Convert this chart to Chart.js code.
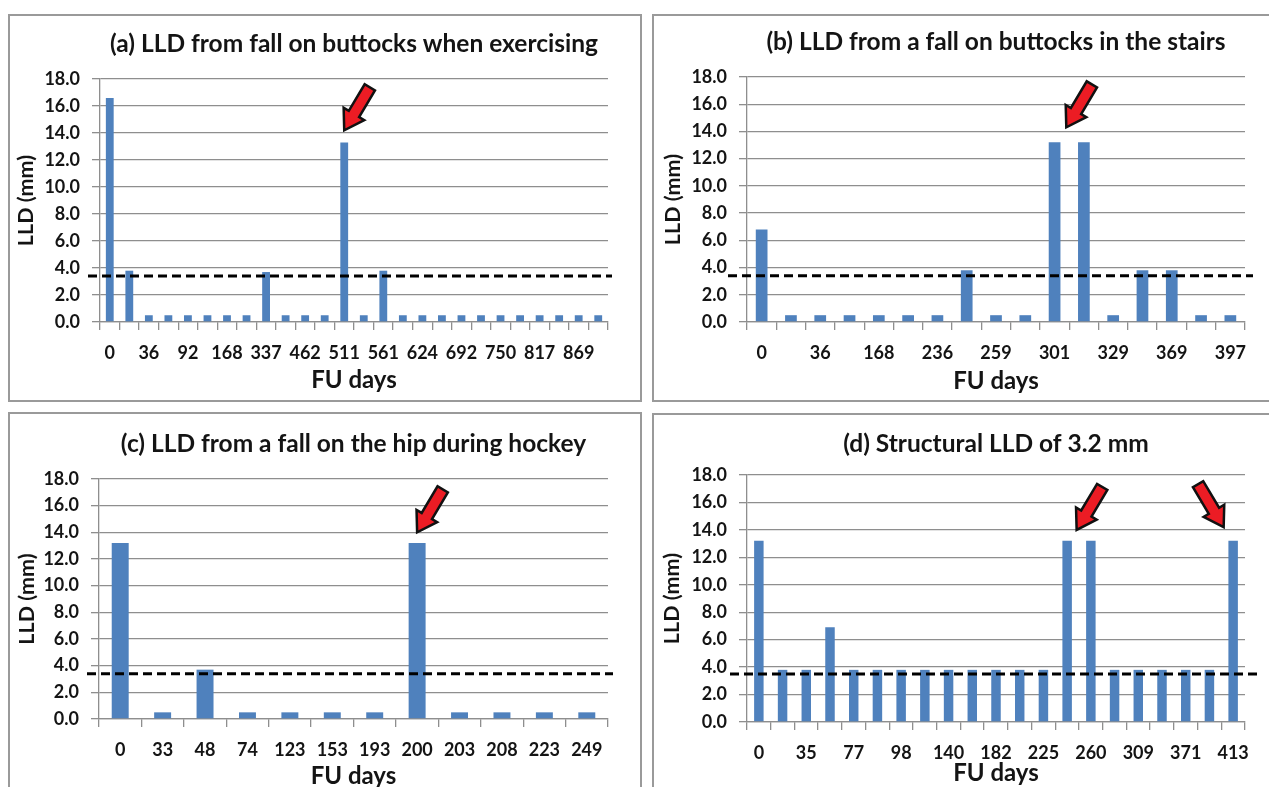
<!DOCTYPE html>
<html><head><meta charset="utf-8">
<script src="https://cdn.jsdelivr.net/npm/chart.js@4.4.1/dist/chart.umd.min.js"></script>
<style>
html,body{margin:0;padding:0;background:#fff;overflow:hidden;width:1269px;height:787px;}
canvas{position:absolute;}
.frame{position:absolute;border:2px solid #9a9a9a;box-sizing:border-box;pointer-events:none;}
</style></head><body>
<canvas id="ca" width="634" height="388" style="left:8px;top:14px"></canvas>
<canvas id="cb" width="617" height="388" style="left:652px;top:14px"></canvas>
<canvas id="cc" width="634" height="375" style="left:8px;top:412px"></canvas>
<canvas id="cd" width="617" height="374" style="left:652px;top:413px"></canvas>
<div class="frame" style="left:8px;top:14px;width:634px;height:388px"></div>
<div class="frame" style="left:652px;top:14px;width:640px;height:388px"></div>
<div class="frame" style="left:8px;top:412px;width:634px;height:400px"></div>
<div class="frame" style="left:652px;top:413px;width:640px;height:400px"></div>
<script>
// ---- data ----
const titleA = '(a) LLD from fall on buttocks when exercising';
const labelsA = ['0','','36','','92','','168','','337','','462','','511','','561','','624','','692','','750','','817','','869',''];
const valuesA = [16.6,3.8,0.5,0.5,0.5,0.5,0.5,0.5,3.7,0.5,0.5,0.5,13.3,0.5,3.8,0.5,0.5,0.5,0.5,0.5,0.5,0.5,0.5,0.5,0.5,0.5];

const titleB = '(b) LLD from a fall on buttocks in the stairs';
const labelsB = ['0','','36','','168','','236','','259','','301','','329','','369','','397'];
const valuesB = [6.8,0.5,0.5,0.5,0.5,0.5,0.5,3.8,0.5,0.5,13.2,13.2,0.5,3.8,3.8,0.5,0.5];

const titleC = '(c) LLD from a fall on the hip during hockey';
const labelsC = ['0','33','48','74','123','153','193','200','203','208','223','249'];
const valuesC = [13.2,0.5,3.7,0.5,0.5,0.5,0.5,13.2,0.5,0.5,0.5,0.5];

const titleD = '(d) Structural LLD of 3.2 mm';
const labelsD = ['0','','35','','77','','98','','140','','182','','225','','260','','309','','371','','413'];
const valuesD = [13.2,3.8,3.8,6.9,3.8,3.8,3.8,3.8,3.8,3.8,3.8,3.8,3.8,13.2,13.2,3.8,3.8,3.8,3.8,3.8,13.2];

const thresholdA = 3.4, thresholdB = 3.4, thresholdC = 3.4, thresholdD = 3.5;
const yTicks = [0,2,4,6,8,10,12,14,16,18];
const yTitle = 'LLD (mm)';
const xTitle = 'FU days';
// arrow annotations: category position (fractional) and value of the arrow tip; dir -1 = points down-left, 1 = down-right
const arrowsA = [{at:12, value:14.2, dir:-1}];
const arrowsB = [{at:10.4, value:14.3, dir:-1}];
const arrowsC = [{at:7, value:14.0, dir:-1}];
const arrowsD = [{at:13.4, value:14.0, dir:-1},{at:19.6, value:14.2, dir:1}];

// ---- rendering ----
const FONT = 'Lato, "Open Sans", sans-serif';
const TXT = '#141414';
const GRID = '#8e8e8e';
const TITLE_SIZE = 24.5, X_TITLE_SIZE = 24, Y_TITLE_SIZE = 21.5, TICK_SIZE = 18;

function drawArrow(ctx, tx, ty, dir){
  let ux = 25*dir, uy = 42;
  const n = Math.hypot(ux,uy); ux/=n; uy/=n;
  const px = -uy, py = ux;
  const L = 50, HL = 19, HH = 12, SH = 6;
  const bx = tx - ux*HL, by = ty - uy*HL;
  const ex = tx - ux*L, ey = ty - uy*L;
  ctx.save();
  ctx.beginPath();
  ctx.moveTo(tx,ty);
  ctx.lineTo(bx+px*HH, by+py*HH);
  ctx.lineTo(bx+px*SH, by+py*SH);
  ctx.lineTo(ex+px*SH, ey+py*SH);
  ctx.lineTo(ex-px*SH, ey-py*SH);
  ctx.lineTo(bx-px*SH, by-py*SH);
  ctx.lineTo(bx-px*HH, by-py*HH);
  ctx.closePath();
  ctx.fillStyle = '#ec1c24';
  ctx.fill();
  ctx.lineWidth = 2.5;
  ctx.lineJoin = 'miter';
  ctx.strokeStyle = '#111';
  ctx.stroke();
  ctx.restore();
}

function makeChart(id, labels, values, title, threshold, arrows, g){
  const canvas = document.getElementById(id);
  const W = canvas.width, H = canvas.height;
  const overlay = {
    id: 'overlay_'+id,
    afterDatasetsDraw(chart){
      const {ctx, chartArea, scales:{x, y}} = chart;
      const yy = y.getPixelForValue(threshold);
      ctx.save();
      ctx.beginPath();
      ctx.setLineDash([9,5]);
      ctx.lineWidth = 3;
      ctx.strokeStyle = '#000';
      ctx.moveTo(chartArea.left - g.dashL, yy);
      ctx.lineTo(chartArea.right + g.dashR, yy);
      ctx.stroke();
      ctx.restore();
      const n = labels.length;
      arrows.forEach(a => {
        const ax = x.left + x.width*(a.at+0.5)/n;
        const ay = y.getPixelForValue(a.value);
        drawArrow(ctx, ax, ay, a.dir);
      });
    }
  };
  const tlh = TITLE_SIZE*1.2;
  return new Chart(canvas, {
    type: 'bar',
    data: { labels: labels, datasets: [{ data: values, backgroundColor: '#4f81bd', borderWidth: 0, barPercentage: 0.4, categoryPercentage: 1 }] },
    options: {
      responsive: false, animation: false, devicePixelRatio: 1,
      layout: { padding: { left: 0, right: W - g.right, top: 0, bottom: 0 } },
      plugins: {
        legend: { display: false }, tooltip: { enabled: false },
        title: { display: true, text: title, fullSize: false, color: TXT,
          font: { family: FONT, size: TITLE_SIZE, weight: 'bold', lineHeight: 1.2 },
          padding: { top: g.titleCenter - tlh/2, bottom: g.top - (g.titleCenter - tlh/2) - tlh } }
      },
      scales: {
        x: {
          grid: { display: true, drawOnChartArea: false, offset: true, color: GRID, lineWidth: 1.3, tickLength: 8 },
          border: { display: true, color: GRID, width: 1.3 },
          ticks: { autoSkip: false, maxRotation: 0, minRotation: 0, color: TXT, padding: 12,
            font: { family: FONT, size: TICK_SIZE, weight: 'bold' } },
          title: { display: true, text: xTitle, color: TXT,
            font: { family: FONT, size: X_TITLE_SIZE, weight: 'bold', lineHeight: 1.0 },
            padding: { top: 0, bottom: H - g.xTitleCenter - X_TITLE_SIZE/2 } },
          afterFit(scale){ scale.height = H - g.bottom; }
        },
        y: {
          min: 0, max: 18,
          afterBuildTicks(scale){ scale.ticks = yTicks.map(v => ({value: v})); },
          grid: { color: GRID, lineWidth: 1.3, tickLength: 8 },
          border: { display: true, color: GRID, width: 1.3 },
          ticks: { color: TXT, padding: 12, font: { family: FONT, size: TICK_SIZE, weight: 'bold' },
            callback: v => Number(v).toFixed(1) },
          title: { display: true, text: yTitle, color: TXT,
            font: { family: FONT, size: Y_TITLE_SIZE, weight: 'bold', lineHeight: 1.0 },
            padding: { top: g.yTitleCenter - Y_TITLE_SIZE/2, bottom: 0 } },
          afterFit(scale){ scale.width = g.left; }
        }
      }
    },
    plugins: [overlay]
  });
}

makeChart('ca', labelsA, valuesA, titleA, thresholdA, arrowsA,
  {left:92, right:600, top:65, bottom:308, titleCenter:30, xTitleCenter:366, yTitleCenter:18, dashL:12, dashR:4});
makeChart('cb', labelsB, valuesB, titleB, thresholdB, arrowsB,
  {left:95, right:593, top:63, bottom:308, titleCenter:28, xTitleCenter:367, yTitleCenter:21, dashL:19, dashR:8});
makeChart('cc', labelsC, valuesC, titleC, thresholdC, arrowsC,
  {left:91, right:600, top:67, bottom:307, titleCenter:32, xTitleCenter:364, yTitleCenter:19, dashL:12, dashR:5});
makeChart('cd', labelsD, valuesD, titleD, thresholdD, arrowsD,
  {left:95, right:593, top:62, bottom:309, titleCenter:31, xTitleCenter:360, yTitleCenter:20, dashL:17, dashR:12});
</script>
</body></html>
